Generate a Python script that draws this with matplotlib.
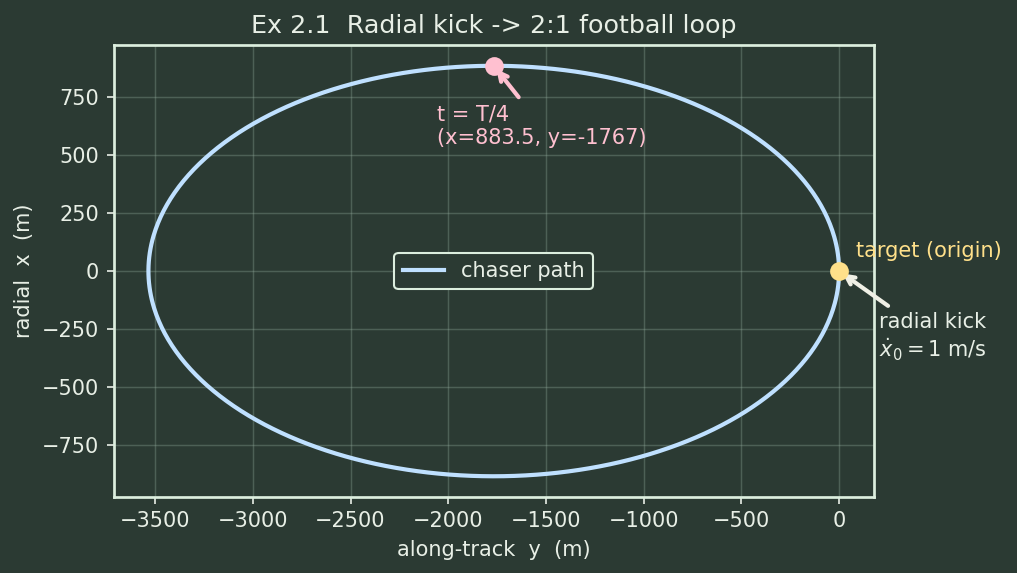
import numpy as np
import matplotlib
matplotlib.use("Agg")
import matplotlib.pyplot as plt

# Values
v0 = 1.0                 # radial kick, m/s
x_amp = 883.5            # radial amplitude (m) at t = T/4
y_quarter = -1767.0      # along-track position at t = T/4
n_mean = v0 / x_amp      # mean motion implied by amplitude

# Clohessy-Wiltshire solution for a pure radial kick
t = np.linspace(0, 2 * np.pi / n_mean, 600)
x_path = (v0 / n_mean) * np.sin(n_mean * t)
y_path = 2 * (v0 / n_mean) * (np.cos(n_mean * t) - 1)

title = "Ex 2.1  Radial kick -> 2:1 football loop"
xlabel = "along-track  y  (m)"
ylabel = "radial  x  (m)"
legend_label = "chaser path"
quarter_text = "t = T/4\n(x=883.5, y=-1767)"
target_text = "target (origin)"
kick_text = "radial kick\n$\\dot{x}_0 = 1$ m/s"

BG = "#2b3a33"
FG = "#e8efe6"
PATH = "#bfe0ff"
PINK = "#ffc0d0"
GOLD = "#ffe08a"

plt.rcParams["font.family"] = ["DejaVu Sans"]
fig, ax = plt.subplots(figsize=(6.78, 3.82), dpi=150)
fig.patch.set_facecolor(BG)
ax.set_facecolor(BG)

ax.plot(y_path, x_path, color=PATH, lw=2, label=legend_label, zorder=3)
ax.plot([y_quarter], [x_amp], "o", color=PINK, ms=8, zorder=4)
ax.plot([0], [0], "o", color=GOLD, ms=8, zorder=4)

ax.annotate(quarter_text, xy=(y_quarter, x_amp), xytext=(23, -29),
            textcoords="offset points", ha="center", va="center",
            multialignment="left",
            color=PINK, fontsize=10,
            arrowprops=dict(arrowstyle="->", color=PINK, lw=2))
ax.annotate(target_text, xy=(0, 0), xytext=(8, 5),
            textcoords="offset points", ha="left", va="bottom",
            color=GOLD, fontsize=10)
ax.annotate(kick_text, xy=(0, 0), xytext=(45, -32),
            textcoords="offset points", ha="center", va="center",
            multialignment="left",
            color=FG, fontsize=10,
            arrowprops=dict(arrowstyle="->", color="#f0f0e6", lw=2))

ax.set_title(title, color=FG, fontsize=12.2)
ax.set_xlabel(xlabel, color=FG, fontsize=10)
ax.set_ylabel(ylabel, color=FG, fontsize=10)
ax.set_xticks(np.arange(-3500, 1, 500))
ax.set_yticks(np.arange(-750, 751, 250))
ax.tick_params(colors=FG, labelsize=10)
for s in ax.spines.values():
    s.set_color("#dceede")
    s.set_linewidth(1.3)
ax.grid(True, color="#8fa89a", alpha=0.35, lw=0.7)
ax.set_axisbelow(True)

leg = ax.legend(loc="center", facecolor=BG, edgecolor="#dceede",
                labelcolor=FG, fontsize=10, framealpha=1)

fig.subplots_adjust(left=0.112, right=0.859, top=0.921, bottom=0.133)
fig.savefig("out.png", dpi=150, facecolor=BG)
